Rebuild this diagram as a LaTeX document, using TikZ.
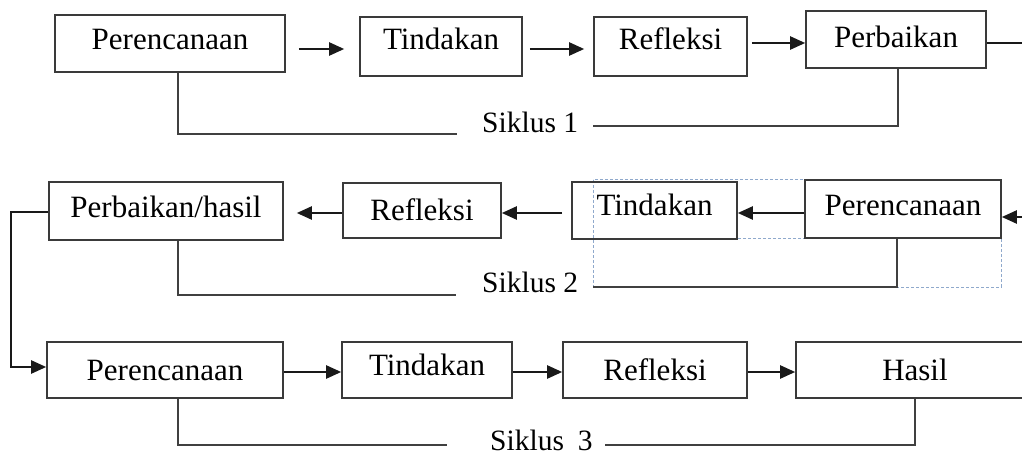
\documentclass[tikz,border=0pt]{standalone}
\usepackage{fontspec}
\setmainfont{Liberation Serif}
\usetikzlibrary{arrows.meta}
\definecolor{dashblue}{HTML}{8FA9CC}
\definecolor{boxline}{HTML}{3A3A3A}
\begin{document}
\begin{tikzpicture}[x=1pt,y=-1pt,
  box/.style={draw=boxline, line width=1.6pt, inner sep=0pt, font=\fontsize{31}{36}\selectfont},
  arr/.style={draw=black!90, line width=2.2pt, -{Triangle[length=15pt,width=13pt]}},
  plain/.style={draw=black!90, line width=1.6pt},
  sik/.style={draw=black!75, line width=1.5pt},
  siklab/.style={inner sep=0pt, anchor=base west, font=\fontsize{29.5}{34}\selectfont},
  dashbox/.style={draw=dashblue, line width=1pt, dash pattern=on 3pt off 2pt}]
\clip (0,0) rectangle (1022,457);
\fill[white] (0,0) rectangle (1022,457);

% dashed outline (row 2)
\draw[dashbox] (593,180) rectangle (1001,287);
\draw[dashbox] (593,238) -- (805,238);

% row 1
\node[box, minimum width=230pt, minimum height=57pt, text height=21pt, text depth=9pt] (p1) at (170,43.5) {Perencanaan};
\node[box, minimum width=162pt, minimum height=59pt, text height=18.5pt, text depth=11.5pt] (t1) at (441,46.5) {Tindakan};
\node[box, minimum width=153pt, minimum height=59pt, text height=18.5pt, text depth=11.5pt] (r1) at (670.5,46.5) {Refleksi};
\node[box, minimum width=180pt, minimum height=57pt, text height=23.5pt, text depth=6.5pt] (b1) at (896,39.5) {Perbaikan};
\node[siklab] (s1) at (482,133) {Siklus 1};
\coordinate (e1) at (1022,43);
\coordinate (s1a) at (457,134);
\coordinate (s1b) at (593,126);

\draw[arr, shorten <=13pt, shorten >=15pt] (p1.east |- 0,49) -- (t1.west |- 0,49);
\draw[arr, shorten <=7pt, shorten >=9pt] (t1.east |- 0,49) -- (r1.west |- 0,49);
\draw[arr, shorten <=4pt] (r1.east |- 0,43) -- (b1.west |- 0,43);
\draw[plain] (b1.east |- 0,43) -- (e1);
\draw[sik] (p1.south -| 178,0) |- (s1a);
\draw[sik] (b1.south -| 898,0) |- (s1b);

% row 2
\node[box, minimum width=234pt, minimum height=58pt, text height=21pt, text depth=9pt] (ph2) at (166,211) {Perbaikan/hasil};
\node[box, minimum width=158pt, minimum height=55pt, text height=24.5pt, text depth=5.5pt] (rf2) at (422,210.5) {Refleksi};
\node[box, minimum width=165pt, minimum height=57pt, text height=19.5pt, text depth=10.5pt] (td2) at (654.5,210.5) {Tindakan};
\node[box, minimum width=196pt, minimum height=58pt, text height=21pt, text depth=9pt] (pr2) at (903,209) {Perencanaan};
\node[siklab] (s2) at (482,292) {Siklus 2};
\coordinate (e2) at (1022,217);
\coordinate (s2a) at (456,295);
\coordinate (s2b) at (593,287);

\draw[arr, shorten >=13pt] (rf2.west |- 0,213) -- (ph2.east |- 0,213);
\draw[arr, shorten <=9pt] (td2.west |- 0,213) -- (rf2.east |- 0,213);
\draw[arr] (pr2.west |- 0,213) -- (td2.east |- 0,213);
\draw[arr] (e2) -- (pr2.east |- 0,217);
\draw[sik] (ph2.south -| 178,0) |- (s2a);
\draw[sik] (pr2.south -| 897,0) |- (s2b);

% row 3
\node[box, minimum width=236pt, minimum height=56pt, text height=25pt, text depth=5pt] (p3) at (165,370) {Perencanaan};
\node[box, minimum width=170pt, minimum height=56pt, text height=20pt, text depth=10pt] (t3) at (427,370) {Tindakan};
\node[box, minimum width=184pt, minimum height=56pt, text height=25pt, text depth=5pt] (r3) at (655,370) {Refleksi};
\node[box, minimum width=238pt, minimum height=56pt, text height=25pt, text depth=5pt] (h3) at (915,370) {Hasil};
\node[siklab] (s3) at (490,450) {Siklus\hskip 14pt 3};
\coordinate (s3a) at (447,445);
\coordinate (s3b) at (605,445);

\draw[arr] (ph2.west |- 0,212) -- ++(-37,0) |- (p3.west |- 0,367);
\draw[arr] (p3.east |- 0,372) -- (t3.west |- 0,372);
\draw[arr] (t3.east |- 0,372) -- (r3.west |- 0,372);
\draw[arr] (r3.east |- 0,372) -- (h3.west |- 0,372);
\draw[sik] (p3.south -| 178,0) |- (s3a);
\draw[sik] (h3.south -| 915,0) |- (s3b);
\end{tikzpicture}
\end{document}
